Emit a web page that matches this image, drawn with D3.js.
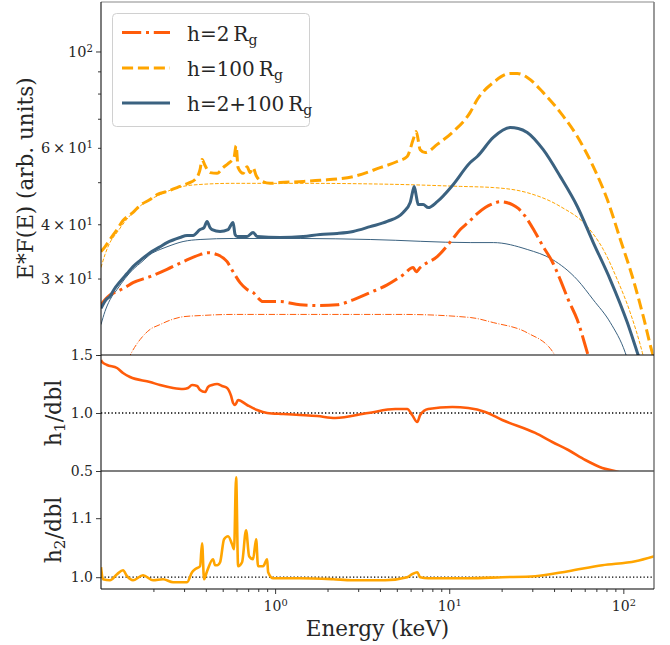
<!DOCTYPE html>
<html>
<head>
<meta charset="utf-8">
<script src="https://cdn.jsdelivr.net/npm/d3@7"></script>
<style>
  body { margin: 0; background: #fff; }
  svg { display: block; }
  svg text, svg tspan { font-family: "DejaVu Serif", "Liberation Serif", serif !important; fill: #262626; }
</style>
</head>
<body>
<svg id="chart" width="670" height="645" font-family="DejaVu Serif"></svg>
<script>
// ---- Spectra: [energy keV, E*F(E)] ----
// total model, lamp post at h = 2 Rg
const h2Line = [[0.100,26.1],[0.1054,26.8],[0.1126,27.5],[0.1236,28.0],[0.1374,28.6],[0.1528,29.35],[0.1912,30.3],[0.2394,31.5],[0.296,32.8],[0.3707,34.06],[0.412,34.4],[0.4642,34.06],[0.530,32.8],[0.5735,31.1],[0.629,29.35],[0.690,28.3],[0.747,27.85],[0.853,26.55],[1.068,26.55],[1.392,26.1],[1.814,26.0],[2.272,26.1],[2.806,26.8],[3.516,27.85],[4.403,29.0],[5.440,30.6],[6.209,31.8],[6.46,31.1],[6.813,31.8],[8.531,33.7],[10.41,36.9],[11.57,38.9],[12.86,40.4],[14.49,42.3],[16.10,43.7],[17.91,44.65],[19.64,45.1],[23.02,44.4],[24.92,43.5],[27.35,41.7],[31.2,38.3],[34.67,35.5],[39.07,32.8],[43.45,29.8],[48.3,26.8],[54.4,24.1],[62.1,20.25],[64.6,19.2]];
// total model, lamp post at h = 100 Rg
const h100Line = [[0.100,34.6],[0.1054,35.5],[0.1126,36.9],[0.1236,38.9],[0.1338,40.8],[0.1528,42.6],[0.1676,44.2],[0.1912,45.6],[0.210,46.8],[0.2394,47.6],[0.2734,48.6],[0.316,49.7],[0.347,50.7],[0.3707,53.5],[0.3806,56.4],[0.396,54.6],[0.4229,52.6],[0.4642,52.4],[0.5026,54.0],[0.537,55.2],[0.581,57.0],[0.597,60.7],[0.613,54.0],[0.655,52.4],[0.690,54.3],[0.718,52.6],[0.747,54.0],[0.778,51.8],[0.820,50.5],[0.936,49.7],[1.068,49.9],[1.449,50.2],[1.814,50.5],[2.806,51.5],[4.01,54.0],[5.024,55.8],[5.736,57.3],[6.209,62.7],[6.46,65.4],[6.813,59.4],[7.278,58.5],[8.531,61.1],[10.55,65.4],[13.20,72.4],[14.49,77.5],[17.91,84.8],[22.42,89.0],[24.59,89.0],[28.06,87.1],[34.67,80.4],[43.45,72.4],[54.4,63.7],[67.2,54.3],[80.9,45.6],[96.1,36.9],[114.1,29.8],[130.3,24.5],[146.8,20.25],[152.7,19.3]];
// total model, double lamp post h = 2 + 100 Rg
const hBothLine = [[0.100,25.6],[0.1068,26.8],[0.1126,27.3],[0.1188,28.3],[0.1286,29.5],[0.1411,30.8],[0.1528,31.96],[0.1676,33.0],[0.1912,34.4],[0.2184,35.5],[0.2394,36.3],[0.2844,37.3],[0.312,37.7],[0.3379,37.7],[0.3707,38.9],[0.3908,39.3],[0.4066,40.6],[0.4229,39.3],[0.4345,38.9],[0.483,38.5],[0.537,38.9],[0.5735,40.4],[0.589,37.9],[0.605,37.5],[0.690,37.5],[0.747,38.3],[0.788,37.5],[1.068,37.3],[1.449,37.5],[1.814,37.9],[2.272,38.1],[2.806,38.5],[3.516,39.5],[4.403,40.6],[5.440,42.6],[5.967,44.9],[6.209,48.1],[6.294,48.9],[6.46,46.6],[6.635,44.4],[7.09,44.4],[7.575,43.7],[8.531,45.1],[10.55,49.4],[13.20,55.5],[14.49,57.3],[17.91,63.4],[22.42,66.8],[24.92,66.5],[28.06,65.1],[34.67,59.4],[43.45,51.5],[54.4,43.96],[67.2,36.3],[84.2,29.8],[105.4,23.75],[120.4,20.25],[125.3,19.3]];

// primary continuum of each model
const h2Cont = [[0.1429,19.5],[0.1507,20.35],[0.1676,21.7],[0.1912,22.9],[0.2184,23.5],[0.2394,23.9],[0.296,24.5],[0.3707,24.65],[0.5735,24.8],[1.392,24.8],[5.44,24.8],[13.20,24.4],[17.91,23.75],[28.06,22.5],[39.6,20.25],[41.2,19.5]];
const h100Cont = [[0.100,31.8],[0.1054,34.06],[0.1126,36.3],[0.1236,38.3],[0.1374,40.6],[0.1528,42.6],[0.172,44.4],[0.1912,45.6],[0.2184,46.8],[0.2394,47.6],[0.296,48.9],[0.3707,49.4],[0.5735,49.7],[1.392,49.7],[5.23,49.4],[11.57,48.9],[17.91,48.6],[28.06,47.3],[43.45,43.96],[62.1,39.5],[76.7,35.0],[92.4,29.8],[109.7,25.0],[128.6,20.25],[133.8,19.0]];
const hBothCont = [[0.100,23.5],[0.1054,25.2],[0.1126,26.8],[0.1236,28.3],[0.1374,30.0],[0.1528,31.5],[0.172,32.8],[0.1912,34.06],[0.2184,35.0],[0.2394,35.5],[0.296,36.5],[0.3707,36.9],[0.5735,37.1],[1.392,37.1],[3.516,36.9],[13.20,36.3],[17.91,36.3],[28.06,35.0],[39.07,33.2],[54.4,29.8],[67.2,26.8],[84.2,23.75],[102.6,20.25],[106.8,19.3]];

// ratios of single lamp posts to the double lamp post
const ratioH1 = [[0.100,1.457],[0.1013,1.44],[0.1083,1.414],[0.1236,1.388],[0.1338,1.345],[0.1468,1.31],[0.1912,1.267],[0.2184,1.241],[0.2594,1.216],[0.296,1.207],[0.316,1.216],[0.3334,1.241],[0.3562,1.233],[0.3707,1.198],[0.396,1.181],[0.412,1.224],[0.4345,1.241],[0.4642,1.25],[0.4958,1.233],[0.530,1.216],[0.5587,1.147],[0.5735,1.086],[0.589,1.069],[0.613,1.112],[0.690,1.069],[0.788,1.026],[0.900,1.0],[1.112,0.991],[1.392,0.983],[1.743,0.974],[2.212,0.957],[3.423,1.0],[4.894,1.034],[5.736,1.034],[6.126,0.983],[6.548,0.922],[6.813,0.983],[7.575,1.034],[10.41,1.052],[12.86,1.043],[16.10,1.009],[20.17,0.940],[31.2,0.828],[39.07,0.75],[48.3,0.681],[60.5,0.595],[75.7,0.526],[93.6,0.491],[96.1,0.483]];
const ratioH2 = [[0.100,1.017],[0.1027,0.9966],[0.1126,0.9949],[0.1236,1.0051],[0.1338,1.0119],[0.1411,1.0017],[0.1528,0.9949],[0.1743,1.0034],[0.199,0.9949],[0.2272,0.9966],[0.2594,0.9915],[0.312,0.9915],[0.3334,1.0085],[0.347,1.0136],[0.3707,1.0186],[0.3806,1.0576],[0.3908,0.9966],[0.4066,1.0102],[0.440,1.0305],[0.452,1.0203],[0.4642,1.0203],[0.483,1.0254],[0.509,1.0644],[0.537,1.0695],[0.566,1.0559],[0.581,1.0475],[0.597,1.1695],[0.613,1.0186],[0.646,1.0254],[0.681,1.0797],[0.709,1.0356],[0.747,1.0305],[0.778,1.0644],[0.798,1.0186],[0.853,1.0186],[0.900,1.0305],[0.912,1.0085],[0.974,0.9983],[1.392,0.9983],[2.154,0.9966],[2.77,0.9949],[4.286,0.9949],[5.736,1.0],[6.126,1.0051],[6.548,1.0085],[6.813,1.0],[7.575,0.9983],[12.86,0.9983],[20.17,1.0],[31.2,1.0017],[48.3,1.0102],[75.7,1.0203],[117.3,1.0271],[150.7,1.0356]];

// ---- Axis ticks ----
const xMajorTicks = [1, 10, 100];
const xMinorTicks = [0.2,0.3,0.4,0.5,0.6,0.7,0.8,0.9,2,3,4,5,6,7,8,9,20,30,40,50,60,70,80,90];
const yMainMajor = [100];
const yMainMinor = [20,30,40,50,60,70,80,90];
const yMainMinorLabels = {30: "3", 40: "4", 60: "6"};
const yR1Ticks = [0.5, 1.0, 1.5];
const yR2Ticks = [1.0, 1.1];

const legendLabels = ["h=2", "h=100", "h=2+100"];

// ---- Layout ----
const FONT = "DejaVu Serif";
const L = 101, R = 654;
const panels = { main: [2, 355], r1: [355, 471], r2: [471, 589] };
const colRed = "#ff5c0a", colOrange = "#ffa500", colBlue = "#3b6280";

const svg = d3.select("#chart");

const x = d3.scaleLog().domain([0.1, 150]).range([L, R]);
const yMain = d3.scaleLog().domain([20, 130]).range([panels.main[1], panels.main[0]]);
const yR1 = d3.scaleLinear().domain([0.5, 1.5]).range([panels.r1[1], panels.r1[0]]);
const yR2 = d3.scaleLinear().domain([0.98, 1.18]).range([panels.r2[1], panels.r2[0]]);

// clip regions
const defs = svg.append("defs");
Object.entries(panels).forEach(([k, [t, b]]) => {
  defs.append("clipPath").attr("id", "clip-" + k)
    .append("rect").attr("x", L).attr("y", t).attr("width", R - L).attr("height", b - t);
});

const lineFor = y => d3.line().x(d => x(d[0])).y(d => y(d[1])).curve(d3.curveMonotoneX);

const dashDot = w => [6.4*w, 1.6*w, 1*w, 1.6*w].join(",");
const dashed = w => [3.7*w, 1.6*w].join(",");

// main panel
const gMain = svg.append("g").attr("clip-path", "url(#clip-main)");
const mainLine = lineFor(yMain);
const series = [
  { data: h2Cont, color: colRed, w: 1, dash: dashDot(1) },
  { data: h100Cont, color: colOrange, w: 1, dash: dashed(1) },
  { data: hBothCont, color: colBlue, w: 1, dash: null },
  { data: h2Line, color: colRed, w: 3, dash: dashDot(3) },
  { data: h100Line, color: colOrange, w: 3, dash: dashed(3) },
  { data: hBothLine, color: colBlue, w: 3, dash: null }
];
series.forEach(s => {
  gMain.append("path").attr("d", mainLine(s.data))
    .attr("fill", "none").attr("stroke", s.color).attr("stroke-width", s.w)
    .attr("stroke-dasharray", s.dash).attr("stroke-linejoin", "round");
});

// ratio panels
const g1 = svg.append("g").attr("clip-path", "url(#clip-r1)");
g1.append("line").attr("x1", L).attr("x2", R).attr("y1", yR1(1)).attr("y2", yR1(1))
  .attr("stroke", "#000").attr("stroke-width", 1.3).attr("stroke-dasharray", "1.3,2.2");
g1.append("path").attr("d", lineFor(yR1)(ratioH1)).attr("fill", "none")
  .attr("stroke", colRed).attr("stroke-width", 2.6).attr("stroke-linejoin", "round");

const g2 = svg.append("g").attr("clip-path", "url(#clip-r2)");
g2.append("line").attr("x1", L).attr("x2", R).attr("y1", yR2(1)).attr("y2", yR2(1))
  .attr("stroke", "#000").attr("stroke-width", 1.3).attr("stroke-dasharray", "1.3,2.2");
g2.append("path").attr("d", lineFor(yR2)(ratioH2)).attr("fill", "none")
  .attr("stroke", colOrange).attr("stroke-width", 2.6).attr("stroke-linejoin", "round");

// frames
function hline(y, color, w) {
  svg.append("line").attr("x1", L).attr("x2", R).attr("y1", y).attr("y2", y)
    .attr("stroke", color).attr("stroke-width", w);
}
svg.append("line").attr("x1", R).attr("x2", R).attr("y1", panels.main[0]).attr("y2", panels.r2[1])
  .attr("stroke", "#808080").attr("stroke-width", 1.6);
hline(panels.main[0], "#8a8a8a", 1.2);
hline(panels.r1[1], "#555", 1.6);
hline(panels.main[1], "#000", 1.1);
hline(panels.r2[1], "#000", 1.1);
svg.append("line").attr("x1", L).attr("x2", L).attr("y1", panels.main[0]).attr("y2", panels.r2[1])
  .attr("stroke", "#111").attr("stroke-width", 1.1);

// axis helpers
function styleAxis(g) {
  g.select(".domain").remove();
  g.selectAll(".tick line").attr("stroke", "#222").attr("stroke-width", 0.9);
  g.attr("font-family", FONT).attr("font-size", null);
  g.selectAll("text").attr("font-family", FONT);
}
function sci(textSel, mant, exp) {
  textSel.text(null);
  textSel.append("tspan").text(mant === null ? "10" : mant + "\u2009\u00d7\u200910");
  textSel.append("tspan").attr("font-size", "0.7em").attr("dy", "-0.5em").text(exp);
}

// x axis (bottom panel)
const gx = svg.append("g").attr("transform", `translate(0,${panels.r2[1]})`);
gx.call(d3.axisBottom(x).tickValues(xMinorTicks).tickSize(3).tickFormat(""));
styleAxis(gx);
const gxM = svg.append("g").attr("transform", `translate(0,${panels.r2[1]})`);
gxM.call(d3.axisBottom(x).tickValues(xMajorTicks).tickSize(5).tickPadding(4).tickFormat(""));
styleAxis(gxM);
gxM.selectAll(".tick text").each(function(d) {
  const t = d3.select(this).attr("font-size", 14).attr("dy", "0.95em");
  sci(t, null, String(Math.round(Math.log10(d))));
});

// y axis main
const gyMin = svg.append("g").attr("transform", `translate(${L},0)`);
gyMin.call(d3.axisLeft(yMain).tickValues(yMainMinor).tickSize(3).tickPadding(5).tickFormat(""));
styleAxis(gyMin);
gyMin.selectAll(".tick text").each(function(d) {
  if (yMainMinorLabels[d]) {
    const t = d3.select(this).attr("font-size", 14.5).attr("dy", "0.35em");
    sci(t, yMainMinorLabels[d], "1");
  }
});
const gyMaj = svg.append("g").attr("transform", `translate(${L},0)`);
gyMaj.call(d3.axisLeft(yMain).tickValues(yMainMajor).tickSize(5).tickPadding(3).tickFormat(""));
styleAxis(gyMaj);
gyMaj.selectAll(".tick text").each(function() {
  const t = d3.select(this).attr("font-size", 14.5).attr("dy", "0.35em");
  sci(t, null, "2");
});

// y axes ratio panels
const gy1 = svg.append("g").attr("transform", `translate(${L},0)`);
gy1.call(d3.axisLeft(yR1).tickValues(yR1Ticks).tickSize(5).tickPadding(3).tickFormat(d3.format(".1f")));
styleAxis(gy1);
gy1.selectAll(".tick text").attr("font-size", 14);
const gy2 = svg.append("g").attr("transform", `translate(${L},0)`);
gy2.call(d3.axisLeft(yR2).tickValues(yR2Ticks).tickSize(5).tickPadding(3).tickFormat(d3.format(".1f")));
styleAxis(gy2);
gy2.selectAll(".tick text").attr("font-size", 14);

// axis titles
svg.append("text").attr("x", (L + R) / 2).attr("y", 636).attr("text-anchor", "middle")
  .attr("font-family", FONT).attr("font-size", 21.5).text("Energy (keV)");
svg.append("text").attr("transform", `translate(33,${(panels.main[0] + panels.main[1]) / 2}) rotate(-90)`)
  .attr("text-anchor", "middle").attr("font-family", FONT).attr("font-size", 21.5).text("E*F(E) (arb. units)");
[["1", panels.r1], ["2", panels.r2]].forEach(([n, [t, b]]) => {
  const tx = svg.append("text").attr("transform", `translate(61,${(t + b) / 2}) rotate(-90)`)
    .attr("text-anchor", "middle").attr("font-family", FONT).attr("font-size", 22);
  tx.append("tspan").text("h");
  tx.append("tspan").attr("font-size", "0.7em").attr("dy", "0.25em").text(n);
  tx.append("tspan").attr("dy", "-0.175em").text("/dbl");
});

// legend
const lg = svg.append("g");
lg.append("rect").attr("x", 112.5).attr("y", 13.5).attr("width", 197).attr("height", 113).attr("rx", 4)
  .attr("fill", "#fff").attr("fill-opacity", 0.85).attr("stroke", "#d0d0d0");
const legendStyles = [
  { color: colRed, dash: dashDot(3) },
  { color: colOrange, dash: dashed(3) },
  { color: colBlue, dash: null }
];
const legendY = [32.5, 68, 103];
legendLabels.forEach((lab, i) => {
  const yy = legendY[i];
  lg.append("line").attr("x1", 122).attr("x2", 170).attr("y1", yy).attr("y2", yy)
    .attr("stroke", legendStyles[i].color).attr("stroke-width", 3).attr("stroke-dasharray", legendStyles[i].dash);
  const t = lg.append("text").attr("x", 187).attr("y", yy + 8).attr("font-family", FONT).attr("font-size", 20);
  t.append("tspan").text(lab + "\u2009R");
  t.append("tspan").attr("font-size", "0.7em").attr("dy", "0.3em").text("g");
});
</script>
</body>
</html>
